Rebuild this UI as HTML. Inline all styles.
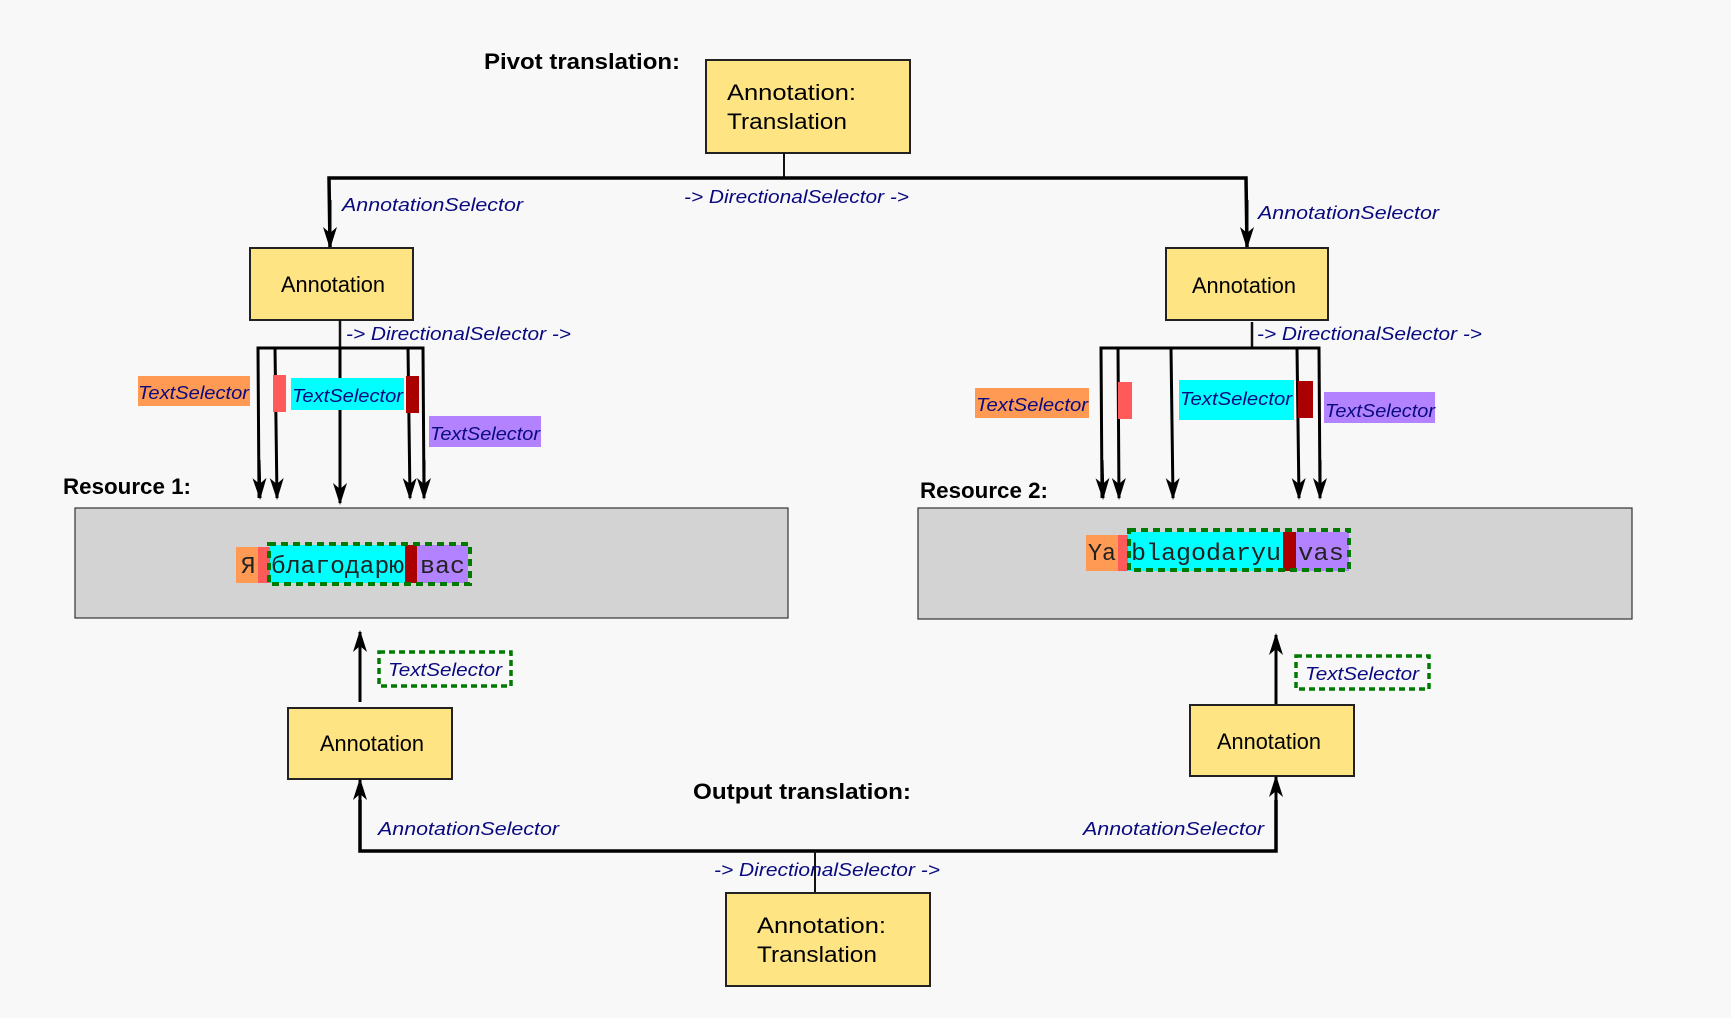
<!DOCTYPE html>
<html><head><meta charset="utf-8"><style>
html,body{margin:0;padding:0;background:#f8f8f8;}
svg{display:block;}
.b{font-family:"Liberation Sans",sans-serif;font-weight:bold;font-size:22px;fill:#000;}
.n{font-family:"Liberation Sans",sans-serif;font-size:22px;fill:#000;}
.l{font-family:"Liberation Sans",sans-serif;font-style:italic;font-size:18px;fill:#0a0a80;}
.m{font-family:"Liberation Mono","DejaVu Sans Mono",monospace;font-size:24px;fill:#222;}
</style></head><body>
<svg width="1731" height="1018" viewBox="0 0 1731 1018" xmlns="http://www.w3.org/2000/svg">
<defs>
<marker id="a" markerWidth="10" markerHeight="12" refX="9" refY="6" orient="auto" markerUnits="userSpaceOnUse" viewBox="0 0 10 12"><path d="M0,0 L10,6 L0,12 L3,6 Z" fill="#000"/></marker>
<marker id="w" markerWidth="22" markerHeight="14" refX="20" refY="7" orient="auto" markerUnits="userSpaceOnUse"><path d="M0,0 L22,7 L0,14 L6,7 Z" fill="#000"/></marker>
</defs>
<rect width="1731" height="1018" fill="#f8f8f8"/>

<!-- Pivot -->
<text class="b" x="484" y="69" textLength="196" lengthAdjust="spacingAndGlyphs">Pivot translation:</text>
<rect x="706" y="60" width="204" height="93" fill="#ffe483" stroke="#222" stroke-width="2"/>
<text class="n" x="727" y="100" font-size="26" textLength="129" lengthAdjust="spacingAndGlyphs">Annotation:</text>
<text class="n" x="727" y="129" font-size="26" textLength="120" lengthAdjust="spacingAndGlyphs">Translation</text>
<line x1="784" y1="153" x2="784" y2="178" stroke="#111" stroke-width="2"/>
<polyline points="330,247 329,178 1246,178 1247,247" fill="none" stroke="#000" stroke-width="3.5" marker-start="" />
<line x1="330" y1="200" x2="330" y2="247" stroke="#000" stroke-width="3" marker-end="url(#w)"/>
<line x1="1247" y1="200" x2="1247" y2="247" stroke="#000" stroke-width="3" marker-end="url(#w)"/>
<text class="l" x="684" y="203" textLength="225" lengthAdjust="spacingAndGlyphs">-&gt; DirectionalSelector -&gt;</text>
<text class="l" x="342" y="211" textLength="181" lengthAdjust="spacingAndGlyphs">AnnotationSelector</text>
<text class="l" x="1258" y="219" textLength="181" lengthAdjust="spacingAndGlyphs">AnnotationSelector</text>

<!-- Left annotation -->
<rect x="250" y="248" width="163" height="72" fill="#ffe483" stroke="#222" stroke-width="2"/>
<text class="n" x="281" y="292" textLength="104" lengthAdjust="spacingAndGlyphs">Annotation</text>
<line x1="340" y1="320" x2="340" y2="348" stroke="#111" stroke-width="2.5"/>
<text class="l" x="346" y="340" textLength="225" lengthAdjust="spacingAndGlyphs">-&gt; DirectionalSelector -&gt;</text>
<polyline points="259,498 258,348 423,348 424,498" fill="none" stroke="#000" stroke-width="3"/>
<line x1="275" y1="348" x2="277" y2="498" stroke="#000" stroke-width="3" marker-end="url(#w)"/>
<line x1="259" y1="460" x2="260" y2="498" stroke="#000" stroke-width="3" marker-end="url(#w)"/>
<line x1="340" y1="348" x2="340" y2="503" stroke="#000" stroke-width="3" marker-end="url(#w)"/>
<line x1="408" y1="348" x2="410" y2="498" stroke="#000" stroke-width="3" marker-end="url(#w)"/>
<line x1="424" y1="460" x2="424" y2="498" stroke="#000" stroke-width="3" marker-end="url(#w)"/>
<rect x="138" y="376" width="112" height="30" fill="#ff9a55"/>
<text class="l" x="138" y="399" textLength="111" lengthAdjust="spacingAndGlyphs">TextSelector</text>
<rect x="273" y="375" width="13" height="37" fill="#ff5a5a"/>
<rect x="291" y="378" width="113" height="32" fill="#00ffff"/>
<text class="l" x="292" y="402" textLength="111" lengthAdjust="spacingAndGlyphs">TextSelector</text>
<rect x="406" y="376" width="13" height="37" fill="#aa0000"/>
<rect x="429" y="416" width="112" height="31" fill="#b383ff"/>
<text class="l" x="430" y="440" textLength="110" lengthAdjust="spacingAndGlyphs">TextSelector</text>

<text class="b" x="63" y="494" textLength="128" lengthAdjust="spacingAndGlyphs">Resource 1:</text>
<rect x="75" y="508" width="713" height="110" fill="#d3d3d3" stroke="#333" stroke-width="1.2"/>
<rect x="236" y="547" width="22" height="36" fill="#ff9a55"/>
<rect x="258" y="547" width="12" height="36" fill="#ff5a5a"/>
<rect x="270" y="545" width="135" height="38" fill="#00ffff"/>
<rect x="405" y="545" width="12" height="38" fill="#aa0000"/>
<rect x="417" y="545" width="51" height="38" fill="#b383ff"/>
<text class="m" x="241" y="573">Я</text>
<text class="m" x="271" y="573" textLength="133" lengthAdjust="spacingAndGlyphs">благодарю</text>
<text class="m" x="420" y="573" textLength="45" lengthAdjust="spacingAndGlyphs">вас</text>
<rect x="269" y="544" width="201" height="40" fill="none" stroke="#007a00" stroke-width="4" stroke-dasharray="7,5"/>

<!-- Right annotation -->
<rect x="1166" y="248" width="162" height="72" fill="#ffe483" stroke="#222" stroke-width="2"/>
<text class="n" x="1192" y="293" textLength="104" lengthAdjust="spacingAndGlyphs">Annotation</text>
<line x1="1252" y1="322" x2="1252" y2="348" stroke="#111" stroke-width="2.5"/>
<text class="l" x="1257" y="340" textLength="225" lengthAdjust="spacingAndGlyphs">-&gt; DirectionalSelector -&gt;</text>
<polyline points="1102,498 1101,348 1319,348 1320,498" fill="none" stroke="#000" stroke-width="3"/>
<line x1="1102" y1="460" x2="1103" y2="498" stroke="#000" stroke-width="3" marker-end="url(#w)"/>
<line x1="1118" y1="348" x2="1119" y2="498" stroke="#000" stroke-width="3" marker-end="url(#w)"/>
<line x1="1171" y1="348" x2="1173" y2="498" stroke="#000" stroke-width="3" marker-end="url(#w)"/>
<line x1="1297" y1="348" x2="1299" y2="498" stroke="#000" stroke-width="3" marker-end="url(#w)"/>
<line x1="1320" y1="460" x2="1320" y2="498" stroke="#000" stroke-width="3" marker-end="url(#w)"/>
<rect x="975" y="388" width="114" height="30" fill="#ff9a55"/>
<text class="l" x="976" y="411" textLength="112" lengthAdjust="spacingAndGlyphs">TextSelector</text>
<rect x="1118" y="382" width="14" height="37" fill="#ff5a5a"/>
<rect x="1179" y="380" width="115" height="40" fill="#00ffff"/>
<text class="l" x="1180" y="405" textLength="112" lengthAdjust="spacingAndGlyphs">TextSelector</text>
<rect x="1298" y="381" width="15" height="37" fill="#aa0000"/>
<rect x="1324" y="392" width="111" height="31" fill="#b383ff"/>
<text class="l" x="1325" y="417" textLength="110" lengthAdjust="spacingAndGlyphs">TextSelector</text>

<text class="b" x="920" y="498" textLength="128" lengthAdjust="spacingAndGlyphs">Resource 2:</text>
<rect x="918" y="508" width="714" height="111" fill="#d3d3d3" stroke="#333" stroke-width="1.2"/>
<rect x="1086" y="535" width="32" height="36" fill="#ff9a55"/>
<rect x="1118" y="535" width="10" height="36" fill="#ff5a5a"/>
<rect x="1128" y="532" width="155" height="39" fill="#00ffff"/>
<rect x="1283" y="532" width="13" height="39" fill="#aa0000"/>
<rect x="1296" y="532" width="53" height="39" fill="#b383ff"/>
<text class="m" x="1088" y="560" textLength="28" lengthAdjust="spacingAndGlyphs">Ya</text>
<text class="m" x="1131" y="560" textLength="150" lengthAdjust="spacingAndGlyphs">blagodaryu</text>
<text class="m" x="1298" y="560" textLength="46" lengthAdjust="spacingAndGlyphs">vas</text>
<rect x="1129" y="530" width="220" height="40" fill="none" stroke="#007a00" stroke-width="4" stroke-dasharray="7,5"/>

<!-- Bottom -->
<line x1="360" y1="702" x2="360" y2="632" stroke="#000" stroke-width="3" marker-end="url(#w)"/>
<rect x="379" y="652" width="132" height="34" fill="none" stroke="#007a00" stroke-width="3.5" stroke-dasharray="6,4"/>
<text class="l" x="388" y="676" textLength="114" lengthAdjust="spacingAndGlyphs">TextSelector</text>
<rect x="288" y="708" width="164" height="71" fill="#ffe483" stroke="#222" stroke-width="2"/>
<text class="n" x="320" y="751" textLength="104" lengthAdjust="spacingAndGlyphs">Annotation</text>

<line x1="1276" y1="704" x2="1276" y2="635" stroke="#000" stroke-width="3" marker-end="url(#w)"/>
<rect x="1296" y="656" width="133" height="33" fill="none" stroke="#007a00" stroke-width="3.5" stroke-dasharray="6,4"/>
<text class="l" x="1305" y="680" textLength="114" lengthAdjust="spacingAndGlyphs">TextSelector</text>
<rect x="1190" y="705" width="164" height="71" fill="#ffe483" stroke="#222" stroke-width="2"/>
<text class="n" x="1217" y="749" textLength="104" lengthAdjust="spacingAndGlyphs">Annotation</text>

<text class="b" x="693" y="799" textLength="218" lengthAdjust="spacingAndGlyphs">Output translation:</text>
<polyline points="360,800 360,851 1276,851 1276,800" fill="none" stroke="#000" stroke-width="3.5"/>
<line x1="360" y1="820" x2="360" y2="780" stroke="#000" stroke-width="3" marker-end="url(#w)"/>
<line x1="1276" y1="820" x2="1276" y2="777" stroke="#000" stroke-width="3" marker-end="url(#w)"/>
<line x1="815" y1="851" x2="815" y2="892" stroke="#111" stroke-width="2"/>
<text class="l" x="378" y="835" textLength="181" lengthAdjust="spacingAndGlyphs">AnnotationSelector</text>
<text class="l" x="1083" y="835" textLength="181" lengthAdjust="spacingAndGlyphs">AnnotationSelector</text>
<text class="l" x="714" y="876" textLength="226" lengthAdjust="spacingAndGlyphs">-&gt; DirectionalSelector -&gt;</text>
<rect x="726" y="893" width="204" height="93" fill="#ffe483" stroke="#222" stroke-width="2"/>
<text class="n" x="757" y="933" font-size="26" textLength="129" lengthAdjust="spacingAndGlyphs">Annotation:</text>
<text class="n" x="757" y="962" font-size="26" textLength="120" lengthAdjust="spacingAndGlyphs">Translation</text>
</svg>
</body></html>
